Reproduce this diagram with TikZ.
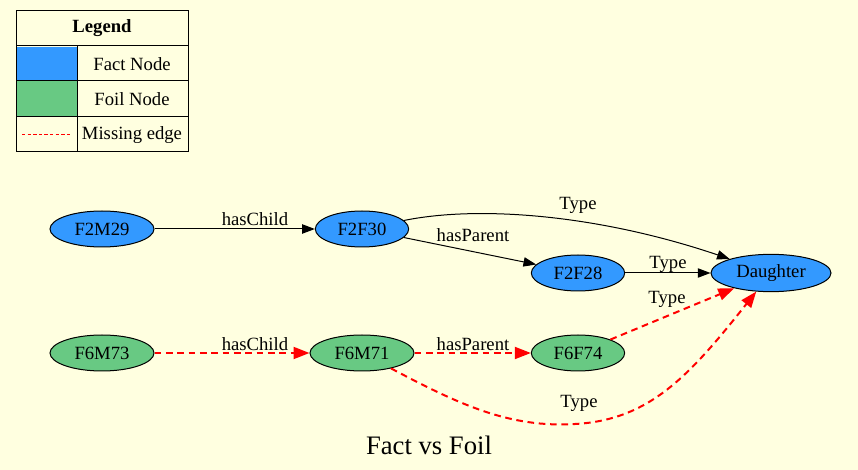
\documentclass[tikz,border=0pt]{standalone}
\usepackage{fontspec}
\setmainfont{Liberation Serif}
\usetikzlibrary{shapes.geometric,arrows.meta}
\definecolor{bg}{RGB}{255,255,224}
\definecolor{factblue}{RGB}{51,153,255}
\definecolor{foilgreen}{RGB}{104,201,131}
\tikzset{
  gnode/.style={ellipse,draw=black,line width=0.75pt,inner sep=0pt,minimum height=27pt,font=\fontsize{14pt}{16pt}\selectfont},
  fact/.style={gnode,fill=factblue},
  foil/.style={gnode,fill=foilgreen},
  elabel/.style={font=\fontsize{14pt}{16pt}\selectfont,inner sep=0pt},
  factedge/.style={draw=black,line width=0.75pt,-{Triangle[length=9.5pt,width=7pt]}},
  foiledge/.style={draw=red,line width=1.5pt,dash pattern=on 5pt off 3.5pt,-{Triangle[length=12pt,width=9pt,fill=red]}},
  legtext/.style={font=\fontsize{14pt}{16pt}\selectfont,inner sep=0pt},
  legline/.style={draw=black,line width=0.75pt}
}
\begin{document}
\begin{tikzpicture}[x=0.75pt,y=-0.75pt]
\fill[bg] (0,0) rectangle (858,470);
\useasboundingbox (0,0) rectangle (858,470);
% legend
\fill[factblue] (17,47) rectangle (77,81);
\fill[foilgreen] (17,81) rectangle (77,117);
\draw[legline] (16,11) rectangle (188,152);
\draw[legline] (16,46) -- (188,46);
\draw[legline] (16,81) -- (188,81);
\draw[legline] (16,117) -- (188,117);
\draw[legline] (77,46) -- (77,152);
\node[legtext,font=\fontsize{14pt}{16pt}\selectfont\bfseries] (legtitle) at (102,28) {Legend};
\node[legtext] (legfact) at (132,64) {Fact Node};
\node[legtext] (legfoil) at (132,99) {Foil Node};
\node[legtext] (legmiss) at (132,135) {Missing edge};
\coordinate (me1) at (22,134);
\coordinate (me2) at (70,134);
\draw[red,line width=0.6pt,dash pattern=on 2.6pt off 1.6pt] (me1) -- (me2);
% nodes
\node[fact,minimum width=78pt] (F2M29) at (102,229) {F2M29};
\node[fact,minimum width=70pt] (F2F30) at (362,229) {F2F30};
\node[fact,minimum width=70pt] (F2F28) at (578,273) {F2F28};
\node[fact,minimum width=90pt,minimum height=28pt] (Daughter) at (771,273) {Daughter};
\node[foil,minimum width=78pt] (F6M73) at (102,353) {F6M73};
\node[foil,minimum width=78pt] (F6M71) at (362,353) {F6M71};
\node[foil,minimum width=70pt] (F6F74) at (578,353) {F6F74};
% fact edges
\draw[factedge] (F2M29) -- (F2F30);
\node[elabel] (l1) at (255,219) {hasChild};
\draw[factedge] (F2F30) -- (F2F28);
\node[elabel] (l2) at (473,235) {hasParent};
\draw[factedge] (F2F30) .. controls (480,205) and (600,215) .. (Daughter);
\node[elabel] (l3) at (578,205) {Type};
\draw[factedge] (F2F28) -- (Daughter);
\node[elabel] (l4) at (668,264) {Type};
% foil edges
\draw[foiledge] (F6M73) -- (F6M71);
\node[elabel] (l5) at (255,344) {hasChild};
\draw[foiledge] (F6M71) -- (F6F74);
\node[elabel] (l6) at (473,344) {hasParent};
\draw[foiledge] (F6F74) -- (Daughter);
\node[elabel] (l7) at (667,299) {Type};
\coordinate (mid) at (575,424);
\draw[foiledge] (F6M71) .. controls (460,405) and (510,428) .. (mid) .. controls (650,420) and (690,375) .. (Daughter);
\node[elabel] (l8) at (579,403) {Type};
% title
\node[font=\fontsize{20pt}{24pt}\selectfont,inner sep=0pt] (title) at (429,445) {Fact vs Foil};
\end{tikzpicture}
\end{document}
